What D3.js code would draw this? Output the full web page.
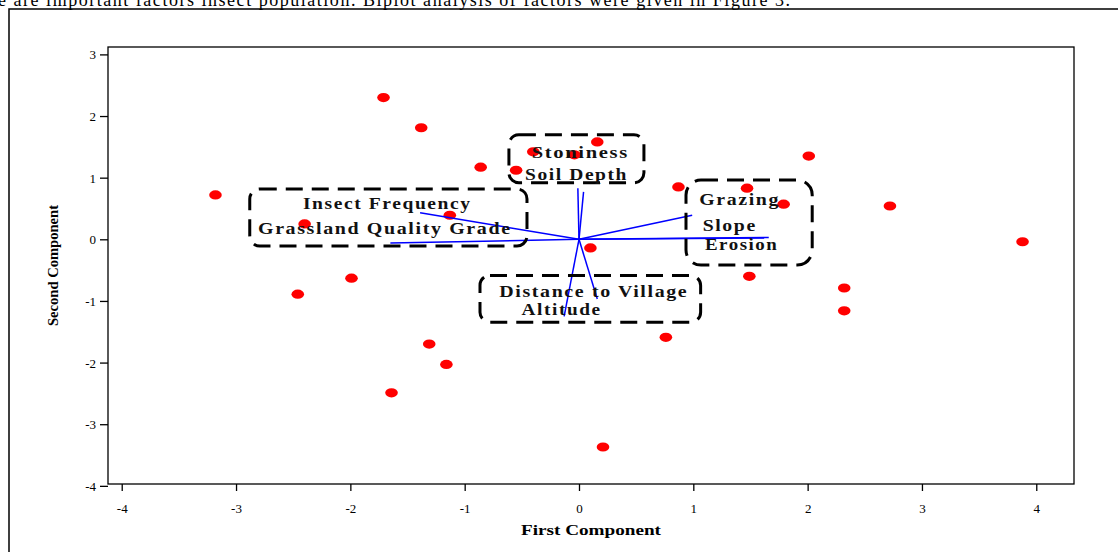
<!DOCTYPE html>
<html>
<head>
<meta charset="utf-8">
<script src="https://cdn.jsdelivr.net/npm/d3@7"></script>
<style>
body{margin:0;background:#fff;overflow:hidden;}
svg{display:block;}
</style>
</head>
<body>
<svg id="chart" width="1118" height="552"></svg>
<script>
// scores of the sampling sites (first, second component)
var scoreX = [-3.18,-1.71,-1.38,-0.86,-0.40,-0.55,-0.04,0.16,-2.40,-1.13,0.10,0.87,1.47,1.79,2.01,2.72,3.88,1.49,2.32,2.32,0.76,-1.99,-2.46,-1.31,-1.16,-1.64,0.21];
var scoreY = [0.72,2.30,1.81,1.17,1.42,1.12,1.37,1.58,0.25,0.39,-0.14,0.85,0.83,0.57,1.35,0.54,-0.04,-0.60,-0.79,-1.16,-1.59,-0.63,-0.89,-1.70,-2.03,-2.49,-3.37];

// factor loadings (vectors)
var factors  = ["Insect Frequency","Grassland Quality Grade","Stoniness","Soil Depth","Grazing","Slope","Erosion","Distance to Village","Altitude"];
var loadX    = [-1.39,-1.65,-0.01,0.04,0.99,1.62,1.66,0.16,-0.13];
var loadY    = [0.43,-0.06,0.83,0.77,0.39,0.02,0.03,-0.97,-1.25];

var xTicks = [-4,-3,-2,-1,0,1,2,3,4];
var yTicks = [-4,-3,-2,-1,0,1,2,3];

// annotation groups: box corners in data units and the labels inside
var groupBoxes = [
    {x0:-2.88, x1:-0.455, y0:0.817, y1:-0.109, r:10},
    {x0:-0.613, x1:0.568, y0:1.695, y1:0.918, r:10},
    {x0:-0.866, x1:1.064, y0:-0.586, y1:-1.345, r:10},
    {x0:0.936, x1:2.04, y0:0.963, y1:-0.418, r:15}
];
var groupLabels = [
    {t:"Insect Frequency", x0:-2.415, x1:-0.939, y:0.487},
    {t:"Grassland Quality Grade", x0:-2.808, x1:-0.589, y:0.086},
    {t:"Stoniness", x0:-0.414, x1:0.437, y:1.316},
    {t:"Soil Depth", x0:-0.472, x1:0.429, y:0.963},
    {t:"Grazing", x0:1.052, x1:1.759, y:0.557},
    {t:"Slope", x0:1.082, x1:1.555, y:0.140},
    {t:"Erosion", x0:1.102, x1:1.744, y:-0.174},
    {t:"Distance to Village", x0:-0.697, x1:0.956, y:-0.932},
    {t:"Altitude", x0:-0.502, x1:0.198, y:-1.229}
];

var svg = d3.select('#chart');
var serif = "'Liberation Serif','Times New Roman',serif";

// page around the figure
svg.append('text')
    .attr('x', -2).attr('y', 6)
    .attr('textLength', 792).attr('lengthAdjust', 'spacing')
    .style('font-family', serif).style('font-size', '18px').style('fill', '#000')
    .text('e are important factors insect population. Biplot analysis of factors were given in Figure 3.');
svg.append('rect')
    .attr('x', 9).attr('y', 9).attr('width', 1130).attr('height', 600)
    .style('fill', 'none').style('stroke', '#000').style('stroke-width', 1.5);

var plotL = 108, plotR = 1074, plotT = 47, plotB = 484;
var x = d3.scaleLinear().domain([-4.12, 4.33]).range([plotL, plotR]);
var y = d3.scaleLinear().domain([-3.97, 3.12]).range([plotB, plotT]);

svg.append('rect')
    .attr('x', plotL).attr('y', plotT).attr('width', plotR-plotL).attr('height', plotB-plotT)
    .style('fill', 'none').style('stroke', '#000').style('stroke-width', 1.3);

var fmt = function(d){ return String(d); };
var gx = svg.append('g').attr('transform', 'translate(0,'+plotB+')')
    .call(d3.axisBottom(x).tickValues(xTicks).tickSize(7).tickSizeOuter(0).tickFormat(fmt));
var gy = svg.append('g').attr('transform', 'translate('+plotL+',0)')
    .call(d3.axisLeft(y).tickValues(yTicks).tickSize(8).tickSizeOuter(0).tickFormat(fmt));
[gx, gy].forEach(function(g){
    g.select('.domain').remove();
    g.selectAll('line').style('stroke', '#000').style('stroke-width', 1.3);
    g.selectAll('text').style('font-family', serif).style('font-size', '13px').style('fill', '#000');
});
gx.selectAll('text').attr('y', 29).attr('dy', 0);
gy.selectAll('text').attr('x', -12).attr('dy', '0.35em');

svg.append('text')
    .attr('x', (plotL+plotR)/2).attr('y', 535).attr('text-anchor', 'middle')
    .attr('textLength', 140).attr('lengthAdjust', 'spacingAndGlyphs')
    .style('font-family', serif).style('font-size', '14px').style('font-weight', 'bold')
    .text('First Component');
svg.append('text')
    .attr('transform', 'translate(58,'+((plotT+plotB)/2)+') rotate(-90)')
    .attr('text-anchor', 'middle')
    .attr('textLength', 121).attr('lengthAdjust', 'spacingAndGlyphs')
    .style('font-family', serif).style('font-size', '14px').style('font-weight', 'bold')
    .text('Second Component');

// points
var pts = [];
for (var i=0; i<scoreX.length; i++){ pts.push([scoreX[i], scoreY[i]]); }
svg.selectAll('.site').data(pts).enter()
    .append('ellipse').attr('class', 'site')
    .attr('cx', function(d){ return x(d[0]); })
    .attr('cy', function(d){ return y(d[1]); })
    .attr('rx', 6.3).attr('ry', 4.6)
    .style('fill', '#ff0000');

// loading vectors
var vecs = [];
for (var vi=0; vi<factors.length; vi++){ vecs.push({name:factors[vi], x:loadX[vi], y:loadY[vi]}); }
svg.selectAll('.vec').data(vecs).enter()
    .append('line').attr('class', 'vec')
    .attr('x1', x(0)).attr('y1', y(0))
    .attr('x2', function(d){ return x(d.x); })
    .attr('y2', function(d){ return y(d.y); })
    .style('stroke', '#0000ff').style('stroke-width', 1.5);

// dashed group boxes
svg.selectAll('.grp').data(groupBoxes).enter()
    .append('rect').attr('class', 'grp')
    .attr('x', function(d){ return x(d.x0); })
    .attr('y', function(d){ return y(d.y0); })
    .attr('width', function(d){ return x(d.x1)-x(d.x0); })
    .attr('height', function(d){ return y(d.y1)-y(d.y0); })
    .attr('rx', function(d){ return d.r; })
    .style('fill', 'none').style('stroke', '#000').style('stroke-width', 3)
    .style('stroke-dasharray', '17,9');

svg.selectAll('.lab').data(groupLabels).enter()
    .append('text').attr('class', 'lab')
    .attr('x', function(d){ return x(d.x0); })
    .attr('y', function(d){ return y(d.y); })
    .attr('textLength', function(d){ return x(d.x1)-x(d.x0); })
    .attr('lengthAdjust', 'spacingAndGlyphs')
    .style('font-family', serif).style('font-size', '16px').style('font-weight', 'bold')
    .style('letter-spacing', '1.3px')
    .style('fill', '#111')
    .text(function(d){ return d.t; });
</script>
</body>
</html>
